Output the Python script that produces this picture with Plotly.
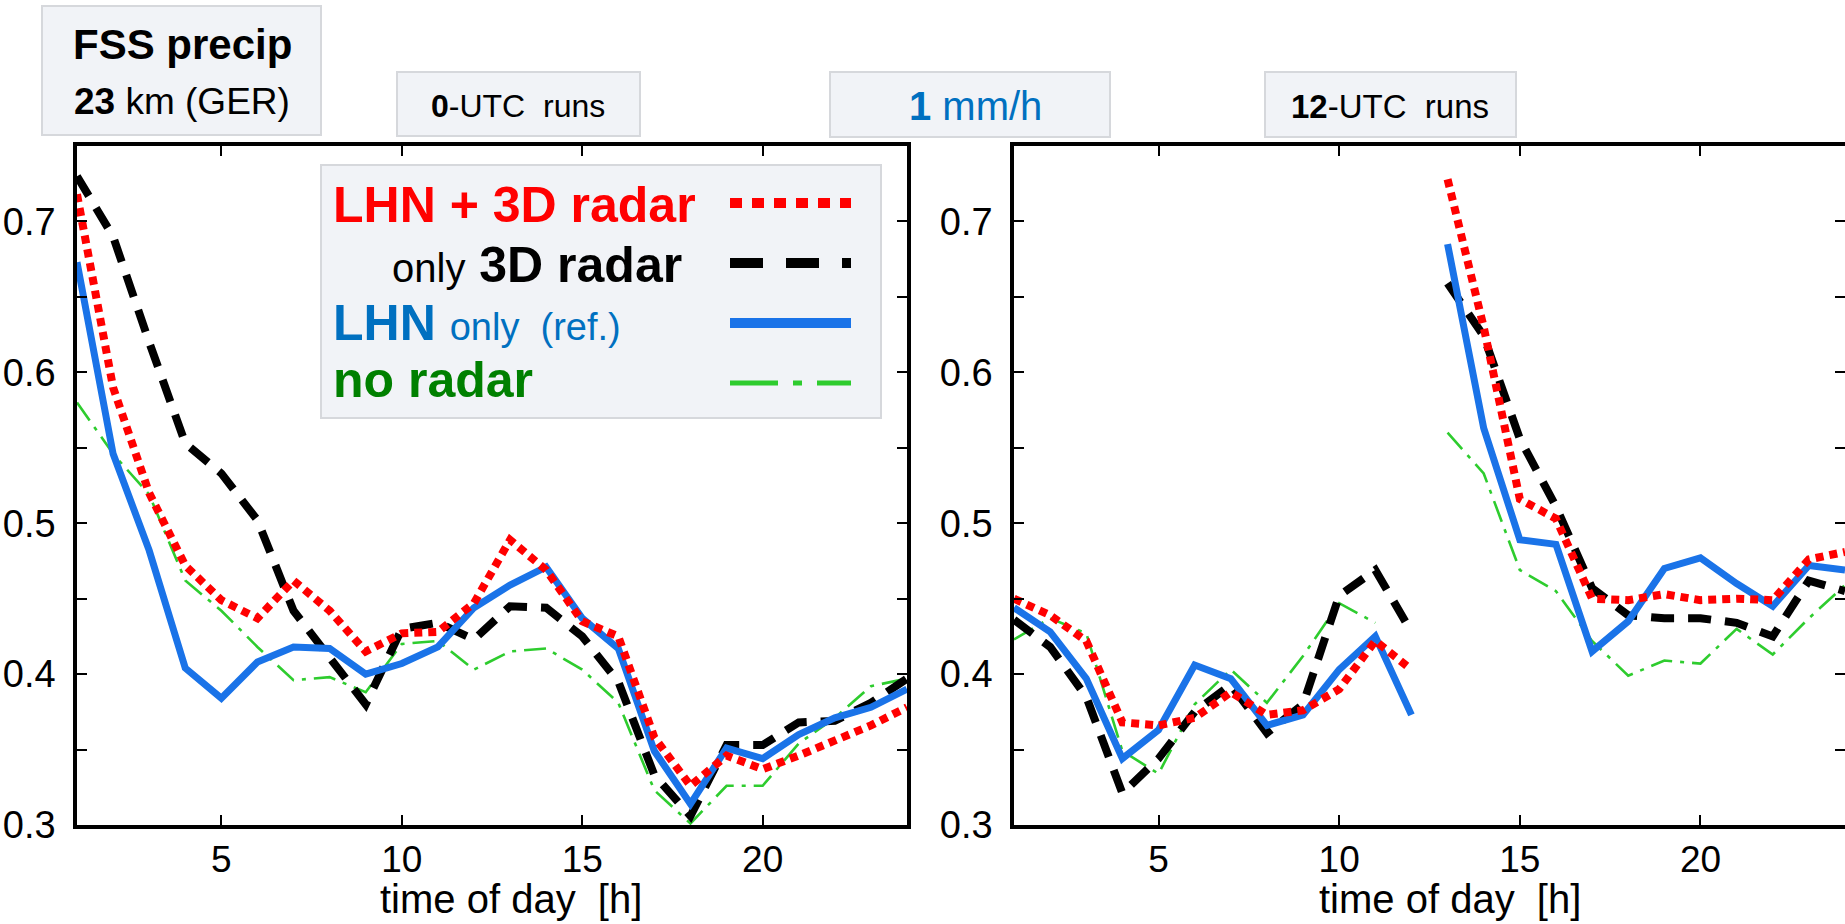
import plotly.graph_objects as go

# ---------------- data ----------------
hours = list(range(1, 25))

# 0-UTC runs (left panel)
lhn3d_00 = [0.718, 0.590, 0.520, 0.472, 0.449, 0.437, 0.462, 0.442, 0.415, 0.427, 0.428, 0.447,
            0.489, 0.469, 0.435, 0.425, 0.358, 0.326, 0.346, 0.337, 0.346, 0.356, 0.366, 0.378]
only3d_00 = [0.730, 0.690, 0.620, 0.553, 0.533, 0.502, 0.442, 0.412, 0.380, 0.430, 0.434, 0.423,
             0.445, 0.444, 0.425, 0.395, 0.333, 0.306, 0.353, 0.353, 0.368, 0.369, 0.381, 0.397]
lhn_00 = [0.673, 0.546, 0.482, 0.404, 0.384, 0.408, 0.418, 0.417, 0.400, 0.407, 0.418, 0.444,
          0.459, 0.471, 0.437, 0.417, 0.349, 0.314, 0.351, 0.344, 0.360, 0.371, 0.378, 0.390]
norad_00 = [0.580, 0.546, 0.519, 0.462, 0.442, 0.418, 0.396, 0.398, 0.388, 0.420, 0.422, 0.403,
            0.415, 0.417, 0.403, 0.381, 0.323, 0.301, 0.326, 0.326, 0.354, 0.371, 0.392, 0.397]

# 12-UTC runs (right panel); hours 1-12 from the previous run, 13-24 from the new run
lhn3d_12 = [0.450, 0.439, 0.422, 0.368, 0.366, 0.371, 0.388, 0.373, 0.376, 0.390, 0.422, 0.403,
            0.728, 0.630, 0.516, 0.503, 0.450, 0.449, 0.453, 0.449, 0.450, 0.449, 0.476, 0.481]
only3d_12 = [0.436, 0.418, 0.385, 0.321, 0.344, 0.375, 0.393, 0.361, 0.380, 0.452, 0.469, 0.428,
             0.659, 0.624, 0.556, 0.511, 0.457, 0.439, 0.437, 0.437, 0.434, 0.425, 0.462, 0.455]
lhn_12 = [0.444, 0.428, 0.397, 0.344, 0.363, 0.406, 0.397, 0.366, 0.373, 0.403, 0.425, 0.373,
          0.685, 0.563, 0.489, 0.486, 0.415, 0.435, 0.470, 0.477, 0.460, 0.445, 0.472, 0.469]
norad_12 = [0.423, 0.437, 0.427, 0.349, 0.334, 0.380, 0.403, 0.381, 0.412, 0.447, 0.434, None,
            0.560, 0.533, 0.469, 0.455, 0.422, 0.399, 0.409, 0.407, 0.430, 0.413, 0.437, 0.459]

x_tickvals = [5, 10, 15, 20]
y_tickvals = [0.3, 0.35, 0.4, 0.45, 0.5, 0.55, 0.6, 0.65, 0.7]
y_ticktext = ["0.3", "", "0.4", "", "0.5", "", "0.6", "", "0.7"]

# ---------------- styling ----------------
W, H = 1845, 924
def px(x):
    return x / W
def py(y):
    return 1 - y / H

TICKFONT = "Liberation Sans Narrow, Arial Narrow, Liberation Sans, Arial, sans-serif"
SANS = "Liberation Sans, Arial, Helvetica, sans-serif"
RED = "#ff0000"
BLACK = "#000000"
BLUE = "#1a73e8"
GREEN = "#2ecc2e"
TXT_BLUE = "#0070c0"
TXT_GREEN = "#008000"
BOX_FILL = "#f1f3f7"
BOX_LINE = "#d6d8dc"

styles = {
    "norad": dict(color=GREEN, width=2.6, dash="22px,8px,4px,8px"),
    "only3d": dict(color=BLACK, width=8, dash="23px,14px"),
    "lhn": dict(color=BLUE, width=7, dash="solid"),
    "lhn3d": dict(color=RED, width=8, dash="8px,6px"),
}

def split_run(vals):
    # break the line between hour 12 and 13 (different model runs)
    xs = hours[:12] + [None] + hours[12:]
    ys = vals[:12] + [None] + vals[12:]
    return xs, ys

fig = go.Figure()
left = {"norad": norad_00, "only3d": only3d_00, "lhn": lhn_00, "lhn3d": lhn3d_00}
right = {"norad": norad_12, "only3d": only3d_12, "lhn": lhn_12, "lhn3d": lhn3d_12}
for key in ["norad", "only3d", "lhn", "lhn3d"]:
    fig.add_trace(go.Scatter(x=hours, y=left[key], mode="lines", line=styles[key],
                             xaxis="x", yaxis="y", hoverinfo="skip"))
    xs, ys = split_run(right[key])
    fig.add_trace(go.Scatter(x=xs, y=ys, mode="lines", line=styles[key], connectgaps=False,
                             xaxis="x2", yaxis="y2", hoverinfo="skip"))

common_x = dict(range=[1, 24], tickvals=x_tickvals, ticks="inside", ticklen=10, tickwidth=2,
                tickcolor="black", showline=True, linecolor="black", linewidth=3.5,
                mirror="allticks", showgrid=False, zeroline=False, automargin=False,
                tickfont=dict(family=TICKFONT, size=37, color="black"), ticklabelstandoff=-1)
common_y = dict(range=[0.3, 0.75], tickvals=y_tickvals, ticktext=y_ticktext, ticks="inside",
                ticklen=10, tickwidth=2, tickcolor="black", showline=True, linecolor="black",
                linewidth=3.5, mirror="allticks", showgrid=False, zeroline=False, automargin=False,
                tickfont=dict(family=TICKFONT, size=38, color="black"), ticklabelstandoff=10)

ydom = [py(825), py(146)]
fig.update_layout(
    width=W, height=H, margin=dict(l=0, r=0, t=0, b=0, pad=0, autoexpand=False),
    paper_bgcolor="white", plot_bgcolor="white", showlegend=False, hovermode=False,
    xaxis=dict(domain=[px(77), px(907)], anchor="y", **common_x),
    yaxis=dict(domain=ydom, anchor="x", **common_y),
    xaxis2=dict(domain=[px(1014), 1.0], anchor="y2", **common_x),
    yaxis2=dict(domain=ydom, anchor="x2", **common_y),
)

shapes = []
annots = []

def box(x0, y0, x1, y1):
    shapes.append(dict(type="rect", xref="paper", yref="paper", x0=px(x0), x1=px(x1),
                       y0=py(y1), y1=py(y0), fillcolor=BOX_FILL,
                       line=dict(color=BOX_LINE, width=2), layer="above"))

def text(x, y, t, size, color="black", xanchor="center", family=SANS):
    annots.append(dict(xref="paper", yref="paper", x=px(x), y=py(y), text=t, showarrow=False,
                       xanchor=xanchor, yanchor="middle",
                       font=dict(family=family, size=size, color=color)))

# header boxes
box(42, 6, 321, 135)
text(182, 44, "<b>FSS precip</b>", 42)
text(182, 101, "<b>23</b> km (GER)", 37)
box(397, 72, 640, 136)
text(518, 106, "<b>0</b>-UTC\u00a0 runs", 32)
box(830, 72, 1110, 137)
text(975, 106, "<b>1</b> mm/h", 40, color=TXT_BLUE)
box(1265, 72, 1516, 137)
text(1390, 106, "<b>12</b>-UTC\u00a0 runs", 33)

# legend box
box(321, 165, 881, 418)
text(331, 205, "<b>LHN + 3D radar</b>", 50, color=RED, xanchor="left")
text(684, 265, "<span style='font-size:40px;font-weight:normal'>only</span> <b>3D radar</b>", 50,
     color=BLACK, xanchor="right")
text(331, 323, "<b>LHN</b> <span style='font-size:38px'>only\u00a0 (ref.)</span>", 50,
     color=TXT_BLUE, xanchor="left")
text(331, 380, "<b>no radar</b>", 50, color=TXT_GREEN, xanchor="left")

legend_lines = [
    (203, RED, 10, "12px,10px"),
    (263, BLACK, 10, "33px,23px"),
    (323, BLUE, 10, "solid"),
    (383, GREEN, 5, "48px,15px,9px,15px"),
]
for y, c, w, d in legend_lines:
    shapes.append(dict(type="line", xref="paper", yref="paper", x0=px(730), x1=px(851),
                       y0=py(y), y1=py(y), line=dict(color=c, width=w, dash=d), layer="above"))

# axis titles
text(511, 899, "time of day\u00a0 [h]", 40)
text(1450, 899, "time of day\u00a0 [h]", 40)

fig.update_layout(shapes=shapes, annotations=annots)

post = (
    "document.documentElement.style.margin='0';"
    "document.body.style.margin='0';document.body.style.overflow='hidden';"
)
fig.write_html("out.html", config={"displayModeBar": False}, post_script=post)
